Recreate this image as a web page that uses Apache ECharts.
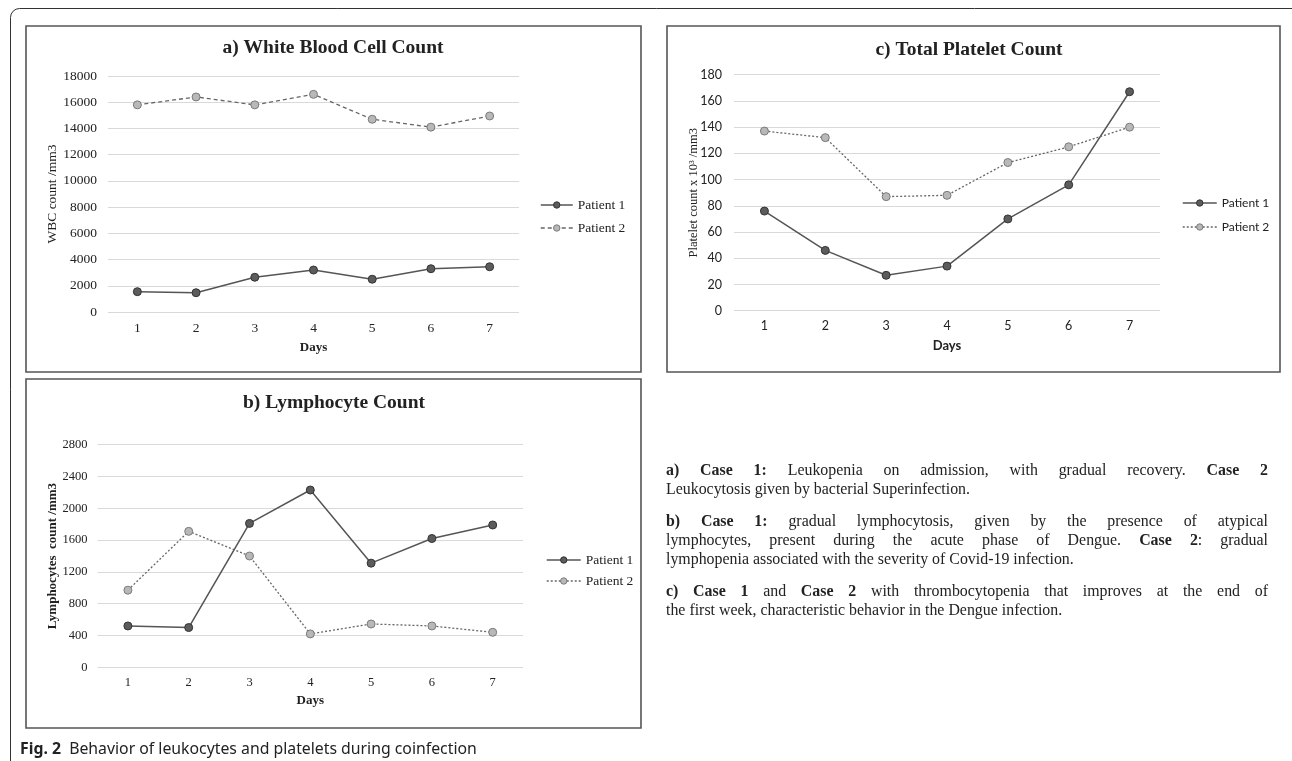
<!DOCTYPE html>
<html>
<head>
<meta charset="utf-8">
<script src="https://cdn.jsdelivr.net/npm/echarts@6/dist/echarts.min.js"></script>
<style>
  html, body { margin: 0; padding: 0; background: #fff; }
  #wrap { position: relative; width: 1292px; height: 761px; overflow: hidden; }
  #chart { position: absolute; left: 0; top: 0; width: 1292px; height: 761px; }
  .para { position: absolute; left: 666px; width: 602px; font-family: "Liberation Serif", serif; font-size: 15.9px; line-height: 19px; color: #222; }
  .j { text-align: justify; text-align-last: justify; }
  .l { text-align: left; }
  .cap { position: absolute; left: 20px; top: 737px; font-family: "Noto Sans", sans-serif; font-size: 15.8px; color: #222; white-space: nowrap; }
</style>
</head>
<body>
<div id="wrap">
  <div id="chart"></div>
  <div class="para" style="top:460px;">
    <div class="j"><b>a) Case 1:</b> Leukopenia on admission, with gradual recovery. <b>Case 2</b></div>
    <div class="l">Leukocytosis given by bacterial Superinfection.</div>
  </div>
  <div class="para" style="top:511px;">
    <div class="j"><b>b) Case 1:</b> gradual lymphocytosis, given by the presence of atypical</div>
    <div class="j">lymphocytes, present during the acute phase of Dengue. <b>Case 2</b>: gradual</div>
    <div class="l">lymphopenia associated with the severity of Covid-19 infection.</div>
  </div>
  <div class="para" style="top:581px;">
    <div class="j"><b>c) Case 1</b> and <b>Case 2</b> with thrombocytopenia that improves at the end of</div>
    <div class="l">the first week, characteristic behavior in the Dengue infection.</div>
  </div>
  <div class="cap"><b>Fig. 2</b>&nbsp; Behavior of leukocytes and platelets during coinfection</div>
</div>
<script>
// ---- data ----
const days = ['1', '2', '3', '4', '5', '6', '7'];
const seriesNames = ['Patient 1', 'Patient 2'];
const wbcPatient1 = [1550, 1470, 2650, 3200, 2500, 3300, 3450];
const wbcPatient2 = [15800, 16400, 15800, 16600, 14700, 14100, 14950];
const lymPatient1 = [520, 500, 1810, 2230, 1310, 1620, 1790];
const lymPatient2 = [970, 1710, 1400, 420, 545, 520, 440];
const pltPatient1 = [76, 46, 27, 34, 70, 96, 167];
const pltPatient2 = [137, 132, 87, 88, 113, 125, 140];
const titles = ['a) White Blood Cell Count', 'b) Lymphocyte Count', 'c) Total Platelet Count'];
const yNames = ['WBC count /mm3', 'Platelet count x 10\u00B3 /mm3', 'Lymphocytes  count /mm3'];
const xName = 'Days';

const serif = '"Liberation Serif", "Times New Roman", serif';
const sans = 'Lato, "Liberation Sans", sans-serif';
const gridColor = '#d9d9d9';
const txt = '#222';

const chart = echarts.init(document.getElementById('chart'), null, { renderer: 'canvas' });

function xAxisCfg(gi, font, size, margin, nameGap) {
  return {
    type: 'category', gridIndex: gi, data: days, boundaryGap: true,
    axisLine: { show: false }, axisTick: { show: false },
    axisLabel: { color: txt, fontFamily: font, fontSize: size, margin: margin },
    name: xName, nameLocation: 'middle', nameGap: nameGap, nameMoveOverlap: false,
    nameTextStyle: { color: txt, fontFamily: font, fontSize: 13, fontWeight: 'bold' }
  };
}
function yAxisCfg(gi, max, interval, labelFont, size, bold, margin, nameGap, nameSize) {
  return {
    type: 'value', gridIndex: gi, min: 0, max: max, interval: interval,
    axisLine: { show: false }, axisTick: { show: false },
    splitLine: { lineStyle: { color: gridColor, width: 1 } },
    axisLabel: { color: txt, fontFamily: labelFont, fontSize: size, margin: margin, formatter: v => String(v) },
    name: yNames[gi], nameLocation: 'middle', nameGap: nameGap, nameMoveOverlap: false,
    nameTextStyle: { color: txt, fontFamily: serif, fontSize: nameSize, fontWeight: bold ? 'bold' : 'normal' }
  };
}
const p1Item = { color: '#5c5c5c', borderColor: '#333', borderWidth: 1 };
const p2Item = { color: '#b8b8b8', borderColor: '#7a7a7a', borderWidth: 1 };
const p1Line = { color: '#555', width: 1.5, type: 'solid' };
function p2Line(type) { return { color: '#666', width: 1.3, type: type }; }

function mk(name, gi, data, item, line) {
  return {
    name: name, type: 'line', xAxisIndex: gi, yAxisIndex: gi, data: data,
    symbol: 'circle', symbolSize: 8, itemStyle: item, lineStyle: line,
    emphasis: { disabled: true }, animation: false
  };
}
function legendCfg(left, top, gap, width, font, size, dashType) {
  return {
    orient: 'vertical', left: left, top: top, itemGap: gap, itemWidth: width, itemHeight: 8,
    padding: 0,
    textStyle: { color: txt, fontFamily: font, fontSize: size }, selectedMode: false,
    data: [
      { name: seriesNames[0], itemStyle: p1Item, lineStyle: p1Line },
      { name: seriesNames[1], itemStyle: p2Item, lineStyle: p2Line(dashType) }
    ]
  };
}

const option = {
  animation: false,
  grid: [
    { left: 108, top: 76, width: 411, height: 236 },           // WBC
    { left: 734, top: 74.7, width: 426, height: 236 },         // Platelet
    { left: 97.5, top: 444.7, width: 425.6, height: 222.6 }    // Lymphocyte
  ],
  xAxis: [
    xAxisCfg(0, serif, 13.5, 9, 29),
    xAxisCfg(1, sans, 12.5, 9, 29),
    xAxisCfg(2, serif, 12.5, 9, 27)
  ],
  yAxis: [
    yAxisCfg(0, 18000, 2000, serif, 13.5, false, 11, 49, 13.5),
    yAxisCfg(1, 180, 20, sans, 12.5, false, 12, 34, 12.5),
    yAxisCfg(2, 2800, 400, serif, 12.5, true, 10, 38, 13)
  ],
  legend: [
    legendCfg(540, 198, 9, 32, serif, 13.5, [4, 3]),
    legendCfg(1182, 197, 12, 34, sans, 12, [2, 2]),
    legendCfg(546, 553, 7, 34, serif, 13.5, [2, 2])
  ],
  series: [
    mk(seriesNames[0], 0, wbcPatient1, p1Item, p1Line),
    mk(seriesNames[1], 0, wbcPatient2, p2Item, p2Line([4, 3])),
    mk(seriesNames[0], 1, pltPatient1, p1Item, p1Line),
    mk(seriesNames[1], 1, pltPatient2, p2Item, p2Line([2, 2])),
    mk(seriesNames[0], 2, lymPatient1, p1Item, p1Line),
    mk(seriesNames[1], 2, lymPatient2, p2Item, p2Line([2, 2]))
  ],
  graphic: [
    { type: 'rect', silent: true, shape: { x: 10.5, y: 8.5, width: 1300, height: 800, r: 9 }, style: { fill: 'none', stroke: '#333', lineWidth: 1 } },
    { type: 'rect', silent: true, shape: { x: 26, y: 26, width: 615, height: 346 }, style: { fill: 'none', stroke: '#555', lineWidth: 1.6 } },
    { type: 'rect', silent: true, shape: { x: 667, y: 26, width: 613, height: 346 }, style: { fill: 'none', stroke: '#555', lineWidth: 1.6 } },
    { type: 'rect', silent: true, shape: { x: 26, y: 379, width: 615, height: 349 }, style: { fill: 'none', stroke: '#555', lineWidth: 1.6 } },
    { type: 'text', silent: true, x: 333, y: 48, style: { text: titles[0], align: 'center', verticalAlign: 'middle', fill: txt, font: 'bold 19.5px ' + serif } },
    { type: 'text', silent: true, x: 969, y: 50, style: { text: titles[2], align: 'center', verticalAlign: 'middle', fill: txt, font: 'bold 19.5px ' + serif } },
    { type: 'text', silent: true, x: 334, y: 403, style: { text: titles[1], align: 'center', verticalAlign: 'middle', fill: txt, font: 'bold 19.5px ' + serif } }
  ]
};
chart.setOption(option);
</script>
</body>
</html>
